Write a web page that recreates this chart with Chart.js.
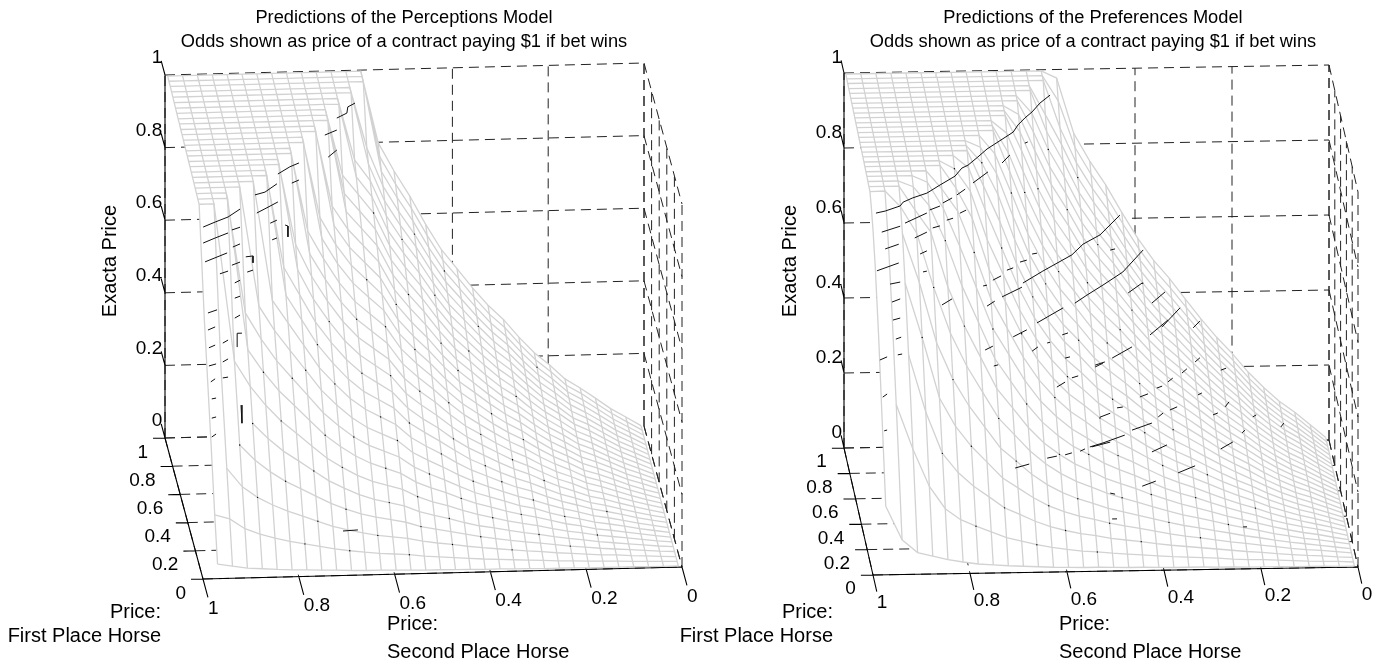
<!DOCTYPE html>
<html>
<head>
<meta charset="utf-8">
<script src="https://cdn.jsdelivr.net/npm/chart.js@4"></script>
<style>
body { margin: 0; background: #fff; }
canvas { position: absolute; top: 0; }
</style>
</head>
<body>
<canvas id="perceptionsChart" width="705" height="669" style="left:0"></canvas>
<canvas id="preferencesChart" width="714" height="669" style="left:670px"></canvas>
<script>
var priceTicks = [0, 0.2, 0.4, 0.6, 0.8, 1];
var exactaTicks = [0, 0.2, 0.4, 0.6, 0.8, 1];
var tickLabels = ['0', '0.2', '0.4', '0.6', '0.8', '1'];

// mesh columns and rows
var secondPrices = [.968,.937,.906,.875,.844,.813,.782,.751,.72,.689,.658,.627,.596,.565,.534,.503,.472,.441,.41,.379,.348,.317,.286,.255,.224,.193,.162,.131,.1,.069,.038,.007];
var firstPrices = [.008,.04,.074,.108,.142,.176,.21,.244,.278,.312,.346,.38,.414,.448,.482,.516,.55,.584,.618,.652,.686,.72,.754,.788,.822,.856,.89,.924,.958,.99];

// exacta price x 1000, one line per first place price
var perceptionsExacta = [
[37,30,24,21,18,16,15,13,12,10,9,9,8,7,6,6,5,5,4,4,3,3,2,2,2,1,1,1,1,0,0,0],
[160,148,120,104,92,82,74,66,58,52,47,43,40,37,32,29,26,23,20,18,16,14,12,10,9,7,6,5,3,2,1,0],
[340,274,222,192,170,152,137,122,107,96,87,79,74,69,60,54,49,43,38,34,30,26,23,19,16,13,10,9,6,4,2,0],
[497,400,324,281,248,221,200,178,157,140,126,116,108,100,87,79,71,63,55,49,43,38,33,28,23,19,15,12,9,6,3,1],
[653,525,426,369,327,291,263,234,206,185,166,152,142,132,115,104,94,82,72,65,57,50,44,37,31,26,20,16,12,8,4,1],
[963,963,528,458,405,361,326,290,255,229,206,188,176,164,143,128,116,102,90,80,70,62,55,46,38,32,25,20,15,10,5,1],
[964,964,964,546,483,431,389,347,305,273,246,225,210,195,170,153,139,122,107,96,84,74,65,55,45,38,29,24,18,12,6,1],
[966,966,966,634,561,500,451,403,354,317,285,261,244,227,198,178,161,142,124,111,98,85,76,63,52,44,34,28,21,13,7,1],
[968,968,968,968,639,570,514,459,403,361,325,297,278,259,225,203,183,161,142,126,111,97,86,72,60,50,39,32,24,15,8,1],
[969,969,969,969,969,640,577,515,452,406,365,334,312,290,253,228,206,181,159,142,125,109,97,81,67,56,44,36,27,17,9,2],
[971,971,971,971,971,971,640,571,502,450,405,370,346,322,280,253,228,201,176,157,138,121,107,90,74,62,48,40,29,19,10,2],
[972,972,972,972,972,972,703,627,551,494,445,407,380,353,308,277,251,220,194,173,152,133,118,99,82,68,53,44,32,21,11,2],
[974,974,974,974,974,974,974,683,600,538,484,443,414,385,335,302,273,240,211,188,166,145,128,108,89,75,58,48,35,23,12,2],
[975,975,975,975,975,975,975,739,650,582,524,479,448,417,363,327,296,260,228,204,179,157,139,116,96,81,63,52,38,25,13,2],
[977,977,977,977,977,977,977,977,699,627,564,516,482,448,390,352,318,280,246,219,193,169,149,125,104,87,67,55,41,27,14,2],
[978,978,978,978,978,978,978,978,748,671,604,552,516,480,418,377,341,299,263,235,206,181,160,134,111,93,72,59,44,28,15,3],
[980,980,980,980,980,980,980,980,980,715,644,589,550,512,446,402,363,319,280,250,220,193,171,143,118,99,77,63,47,30,17,3],
[981,981,981,981,981,981,981,981,981,759,683,625,584,543,473,426,385,339,297,266,234,205,181,152,126,105,82,67,50,32,18,3],
[983,983,983,983,983,983,983,983,983,983,723,661,618,575,501,451,408,358,315,281,247,216,192,161,133,111,87,71,53,34,19,3],
[984,984,984,984,984,984,984,984,984,984,763,698,652,606,528,476,430,378,332,297,261,228,202,170,140,117,91,75,55,36,20,3],
[986,986,986,986,986,986,986,986,986,986,986,734,686,638,556,501,453,398,349,312,274,240,213,178,148,123,96,79,58,38,21,3],
[987,987,987,987,987,987,987,987,987,987,987,770,720,670,583,526,475,418,367,328,288,252,223,187,155,129,101,83,61,40,22,4],
[989,989,989,989,989,989,989,989,989,989,989,807,754,701,611,550,498,437,384,343,302,264,234,196,162,136,106,87,64,41,23,4],
[990,990,990,990,990,990,990,990,990,990,990,990,788,733,638,575,520,457,401,359,315,276,244,205,169,142,110,91,67,43,24,4],
[992,992,992,992,992,992,992,992,992,992,992,992,822,764,666,600,543,477,418,374,329,288,255,214,177,148,115,95,70,45,25,4],
[994,994,994,994,994,994,994,994,994,994,994,994,994,796,693,625,565,496,436,389,342,300,265,223,184,154,120,98,73,47,26,4],
[995,995,995,995,995,995,995,995,995,995,995,995,995,828,721,650,587,516,453,405,356,312,276,231,191,160,125,102,76,49,27,4],
[997,997,997,997,997,997,997,997,997,997,997,997,997,997,748,675,610,536,470,420,370,324,286,240,199,166,129,106,79,51,28,5],
[998,998,998,998,998,998,998,998,998,998,998,998,998,998,776,699,632,556,487,436,383,335,297,249,206,172,134,110,81,53,29,5],
[1000,1000,1000,1000,1000,1000,1000,1000,1000,1000,1000,1000,1000,1000,802,723,653,574,503,450,396,347,307,257,213,178,139,113,84,54,30,5]
];

// exacta price x 1000, one line per second place price
var preferencesExactaByColumn = [
[180,620,800,880,930,962,964,966,968,969,971,972,974,975,977,978,980,981,983,984,986,987,989,990,992,994,995,997,998,1000],
[90,440,680,820,900,963,964,966,968,969,971,972,974,975,977,978,980,981,983,984,986,987,989,990,992,994,995,997,998,1000],
[55,320,560,740,860,920,964,966,968,969,971,972,974,975,977,978,980,981,983,984,986,987,989,990,992,994,995,997,998,1000],
[45,220,407,594,730,850,900,950,968,969,971,972,974,975,977,978,980,981,983,984,986,987,989,990,992,994,995,997,998,1000],
[35,160,296,432,568,704,840,900,950,969,971,972,974,975,977,978,980,981,983,984,986,987,989,990,992,994,995,997,998,1000],
[28,130,244,356,469,581,693,805,880,920,971,972,974,975,977,978,980,981,983,984,986,987,989,990,992,994,995,997,998,1000],
[22,112,207,302,398,493,588,683,778,860,910,950,974,975,977,978,980,981,983,984,986,987,989,990,992,994,995,997,998,1000],
[19,96,178,259,341,422,504,586,667,749,830,890,940,975,977,978,980,981,983,984,986,987,989,990,992,994,995,997,998,1000],
[16,80,148,216,284,352,420,488,556,624,692,760,828,880,930,960,980,981,983,984,986,987,989,990,992,994,995,997,998,1000],
[14,70,130,189,249,308,368,427,487,546,606,665,725,784,844,890,930,981,983,984,986,987,989,990,992,994,995,997,998,1000],
[12,60,111,162,213,264,315,366,417,468,519,570,621,672,723,774,825,870,910,950,986,987,989,990,992,994,995,997,998,1000],
[10,52,96,140,185,229,273,317,361,406,450,494,538,582,627,671,715,759,803,848,892,930,965,990,992,994,995,997,998,1000],
[9,46,85,124,163,202,242,281,320,359,398,436,476,515,554,593,633,672,711,750,789,828,867,906,945,994,995,997,998,1000],
[8,41,76,111,146,181,216,251,286,321,356,391,426,461,496,531,567,602,637,672,707,742,777,812,847,882,917,997,998,1000],
[8,38,70,102,133,165,197,229,261,293,325,357,389,421,453,485,517,549,581,613,645,677,709,741,773,805,837,869,930,980],
[7,34,62,91,119,148,176,205,234,262,291,319,348,376,405,433,462,491,519,548,576,605,633,662,690,719,748,776,805,832],
[6,31,57,83,109,135,161,187,213,239,265,291,317,343,369,395,421,447,473,499,525,551,577,603,629,655,681,707,733,757],
[6,28,52,76,99,123,147,171,195,218,242,266,290,314,337,361,385,409,433,456,480,504,528,552,575,599,623,647,671,693],
[5,25,46,68,89,110,131,153,174,195,216,238,259,280,301,323,344,365,386,408,429,450,471,493,514,535,556,578,599,619],
[4,22,41,60,79,98,117,135,154,173,192,211,230,249,268,286,305,324,343,362,381,400,418,437,456,475,494,513,532,549],
[4,20,37,53,70,87,104,121,138,154,171,188,205,222,239,255,272,289,306,323,340,356,373,390,407,424,441,457,474,490],
[4,18,33,48,63,78,93,109,124,139,154,169,184,199,214,230,245,260,275,290,305,320,336,351,366,381,396,411,426,441],
[3,16,29,42,55,69,82,95,108,122,135,148,161,175,188,201,215,228,241,254,268,281,294,307,321,334,347,360,374,386],
[3,13,25,36,48,59,70,82,93,105,116,127,139,150,161,173,184,196,207,218,230,241,253,264,275,287,298,310,321,332],
[2,11,21,31,40,50,60,70,79,89,99,108,118,128,137,147,157,166,176,186,196,205,215,225,234,244,254,263,273,282],
[2,10,18,26,34,42,50,59,67,75,83,91,99,108,116,124,132,140,148,156,165,173,181,189,197,205,214,222,230,238],
[2,8,14,21,27,33,40,46,53,59,66,72,79,85,92,98,105,111,117,124,130,137,143,150,156,163,169,176,182,188],
[1,6,11,16,21,26,31,36,41,46,51,56,61,66,71,76,81,86,91,96,101,106,111,116,121,126,131,136,141,146],
[1,4,8,12,16,19,23,27,31,34,38,42,46,49,53,57,61,64,68,72,75,79,83,87,90,94,98,102,105,109],
[1,3,6,9,11,14,17,20,22,25,28,30,33,36,39,41,44,47,49,52,55,58,60,63,66,68,71,74,77,79],
[0,2,3,5,6,8,9,11,13,14,16,17,19,20,22,23,25,26,28,29,31,32,34,35,37,39,40,42,43,45],
[0,0,1,1,1,2,2,2,3,3,3,4,4,4,5,5,6,6,6,7,7,7,8,8,8,9,9,9,10,10]
];

// first mesh column where each row shows grey (the rest of it is lost in the steep face)
var perceptionsRowStart = [0,0,1,2,3];
var preferencesRowStart = [0,1,2,2,2];

// black pieces of the under-mesh showing through: [second price, exacta] at first place price 0.5
var perceptionsTraces = [
[[.960,.774],[.935,.787],[.908,.800],[.883,.821]],
[[.960,.730],[.935,.743],[.908,.756]],[[.900,.764],[.883,.771]],
[[.956,.678],[.910,.701]],[[.925,.644],[.908,.651]],
[[.852,.859],[.831,.866],[.806,.888]],[[.804,.915],[.779,.934],[.760,.944]],
[[.848,.809],[.831,.820],[.804,.838]],[[.775,.889],[.760,.897]],
[[.706,1.019],[.681,1.032]],[[.681,1.065],[.660,1.078],[.658,1.095],[.643,1.105]],
[[.699,.958],[.681,.977]],[[.820,.780],[.806,.788]],[[.816,.734],[.806,.739]],
[[.898,.717],[.883,.725]],[[.900,.667],[.883,.675]],
[[.871,.689],[.856,.691],[.856,.672]],[[.789,.774],[.783,.771],[.783,.741]],
[[.868,.647],[.856,.652]],[[.894,.618],[.883,.625]],[[.894,.576],[.883,.581]],
[[.950,.537],[.931,.545]],[[.950,.490],[.935,.498]],[[.948,.441],[.935,.448]],
[[.919,.453],[.908,.461]],[[.948,.391],[.933,.396]],[[.919,.401],[.908,.409]],
[[.944,.347],[.935,.355]],[[.919,.357],[.908,.359]],[[.942,.300],[.933,.302]],
[[.942,.247],[.933,.250]],[[.942,.195],[.933,.203]],[[.668,-.073],[.637,-.071]],
[[.894,.521],[.883,.529]],[[.889,.441],[.889,.479],[.879,.479]],[[.881,.281],[.879,.231]]
];
var preferencesTraces = [
[[.964,.795],[.945,.800],[.914,.813],[.908,.823],[.888,.834],[.859,.846],[.832,.867],[.801,.890],[.787,.911],[.774,.919],[.754,.940],[.735,.961],[.719,.974],[.681,1.005],[.671,1.024],[.657,1.042],[.642,1.058],[.626,1.081],[.605,1.102]],
[[.952,.744],[.914,.759]],[[.904,.767],[.859,.793]],[[.853,.801],[.832,.811]],[[.826,.819],[.807,.832]],[[.797,.840],[.780,.855]],[[.764,.871],[.733,.900]],[[.704,.923],[.688,.944]],[[.657,.975],[.651,.978]],
[[.945,.699],[.917,.711]],[[.884,.727],[.859,.742]],[[.847,.753],[.832,.758]],[[.818,.773],[.805,.778]],[[.791,.791],[.778,.799]],
[[.962,.641],[.917,.661]],[[.873,.684],[.859,.692]],[[.867,.636],[.859,.638]],[[.935,.605],[.914,.610]],[[.931,.557],[.914,.565]],[[.929,.509],[.914,.514]],[[.828,.547],[.807,.563]],
[[.743,.596],[.735,.598]],[[.723,.611],[.706,.622]],[[.694,.637],[.681,.643]],[[.667,.658],[.653,.663]],[[.642,.679],[.632,.681]],
[[.735,.542],[.719,.555]],[[.704,.566],[.663,.591]],[[.661,.602],[.620,.633],[.560,.675],[.537,.703],[.502,.727],[.461,.779]],
[[.632,.495],[.578,.534]],[[.554,.546],[.529,.567],[.496,.593],[.455,.627],[.413,.685]],
[[.481,.686],[.471,.689]],[[.444,.571],[.415,.597]],[[.395,.543],[.368,.572]],[[.374,.479],[.337,.529]],[[.310,.475],[.296,.493]],[[.399,.458],[.362,.497]],
[[.512,.380],[.492,.388]],[[.477,.398],[.436,.427]],[[.420,.293],[.403,.301]],[[.385,.316],[.374,.321]],[[.362,.332],[.352,.342]],[[.333,.355],[.323,.366]],[[.306,.384],[.296,.395]],[[.253,.361],[.242,.366]],
[[.502,.241],[.481,.251]],[[.467,.265],[.455,.267]],[[.436,.205],[.395,.223]],[[.382,.239],[.372,.249]],[[.358,.257],[.343,.265]],[[.300,.296],[.292,.301]],[[.269,.242],[.259,.247]],[[.244,.263],[.236,.276]],[[.187,.235],[.180,.240]],
[[.523,.162],[.496,.172],[.451,.192]],[[.395,.146],[.364,.164]],[[.341,.089],[.306,.107]],[[.415,.055],[.387,.068]],[[.253,.151],[.228,.169]],[[.209,.193],[.203,.200]],[[.129,.207],[.123,.217]],
[[.481,.038],[.471,.035]],[[.477,-.031],[.467,-.031]],[[.207,-.058],[.199,-.058]],
[[.677,.109],[.648,.119]],[[.611,.134],[.591,.139]],[[.574,.142],[.560,.147]],[[.543,.151],[.533,.157]],[[.519,.162],[.481,.174]],
[[.739,.425],[.723,.435]],[[.681,.459],[.653,.477]],[[.642,.420],[.630,.431]],[[.591,.323],[.574,.336]],[[.560,.347],[.547,.352]],[[.512,.375],[.496,.385]],[[.574,.400],[.564,.403]],[[.611,.441],[.605,.443]],[[.580,.462],[.568,.467]],[[.721,.382],[.712,.385]],
[[.956,.403],[.941,.411]],[[.923,.458],[.912,.463]],[[.919,.416],[.910,.418]],[[.950,.304],[.941,.312]],[[.947,.214],[.941,.216]]
];

// black specks sitting on mesh nodes: [row, column]
var perceptionsSpecks = [[1,6],[1,9],[1,13],[2,3],[2,7],[2,11],[2,16],[2,20],[3,2],[3,5],[3,9],[3,14],[3,18],[3,24],[4,3],[4,7],[4,12],[4,16],[4,22],[5,5],[5,9],[5,14],[5,19],[5,26],[6,4],[6,8],[6,12],[6,17],[6,21],[7,6],[7,10],[7,15],[7,24],[8,7],[8,13],[8,18],[8,22],[9,9],[9,12],[9,16],[9,20],[9,27],[10,8],[10,14],[10,19],[11,11],[11,17],[11,23],[12,9],[12,13],[12,21],[13,15],[13,19],[14,11],[14,17],[15,13],[15,22],[16,15],[16,20],[17,12],[18,14],[18,18],[19,17],[20,15],[20,22],[21,19],[22,13],[23,17],[24,15],[25,20],[26,16],[27,18],[27,24]];
var preferencesSpecks = [[1,6],[1,10],[1,14],[2,4],[2,8],[2,12],[2,17],[3,3],[3,6],[3,11],[3,15],[3,21],[4,5],[4,9],[4,13],[4,19],[5,4],[5,8],[5,16],[5,23],[6,6],[6,12],[6,18],[7,5],[7,10],[7,14],[7,21],[8,8],[8,16],[8,25],[9,7],[9,12],[9,19],[10,10],[10,15],[10,22],[11,6],[11,13],[11,18],[12,9],[12,16],[13,11],[13,20],[14,8],[14,14],[15,12],[15,18],[16,10],[16,16],[17,13],[18,11],[18,17],[19,15],[20,12],[21,18],[22,14],[23,16],[24,13],[25,19],[26,15]];

// ---- viewing planes, one per panel
var perceptionsView = { x0: 682, xs: -479, xf: -38, y0: 567, ys: 12, yf: -141, yz: -363, lean: 13, min: 0, max: 705 };
var preferencesView = { x0: 1358, xs: -485, xf: -29, y0: 567, ys: 8, yf: -127, yz: -375, lean: 14, min: 670, max: 1384 };

function project(view, second, first, exacta, lean) {
    return {
        x: view.x0 + view.xs * second + view.xf * first - (lean || 0) * exacta,
        y: view.y0 + view.ys * second + view.yf * first + view.yz * exacta
    };
}

function withGaps(segments) {
    var out = [];
    segments.forEach(function (seg) {
        seg.forEach(function (p) { out.push(p); });
        out.push({ x: null, y: null });
    });
    return out;
}

function buildDatasets(view, table, rowStart, traces, specks) {
    function node(i, j) {
        return project(view, secondPrices[j], firstPrices[i], table[i][j] / 1000, view.lean);
    }
    var rows = [], cols = [], outline = [];
    firstPrices.forEach(function (f, i) {
        var seg = [];
        secondPrices.forEach(function (s, j) {
            if (j >= (rowStart[i] || 0)) seg.push(node(i, j));
        });
        rows.push(seg);
    });
    secondPrices.forEach(function (s, j) {
        cols.push(firstPrices.map(function (f, i) { return node(i, j); }));
    });

    var last = firstPrices.length - 1, lastCol = secondPrices.length - 1;
    secondPrices.forEach(function (s, j) { outline.push(node(0, j)); });
    firstPrices.forEach(function (f, i) { outline.push(node(i, lastCol)); });
    secondPrices.forEach(function (s, j) { outline.push(node(last, lastCol - j)); });
    firstPrices.forEach(function (f, i) { outline.push(node(last - i, 0)); });

    var grid = [], axes = [];
    function seg3(a, b) { return [project(view, a[0], a[1], a[2]), project(view, b[0], b[1], b[2])]; }
    exactaTicks.forEach(function (z) {
        grid.push(seg3([1, 1, z], [0, 1, z]));
        grid.push(seg3([0, 1, z], [0, 0, z]));
        axes.push(seg3([1, 1, z], [1, 1.1, z]));
    });
    priceTicks.forEach(function (p) {
        grid.push(seg3([p, 1, 0], [p, 1, 1]));
        grid.push(seg3([p, 1, 0], [p, 0, 0]));
        grid.push(seg3([0, p, 0], [0, p, 1]));
        grid.push(seg3([1, p, 0], [0, p, 0]));
        axes.push(seg3([p, 0, 0], [p, -0.13, 0]));
        axes.push(seg3([1, p, 0], [1.025, p, 0]));
    });
    axes.push(seg3([1, 1, 0], [1, 1, 1]));
    axes.push(seg3([1, 1, 0], [1, 0, 0]));
    axes.push(seg3([1, 0, 0], [0, 0, 0]));

    var traceSegs = traces.map(function (t) {
        return t.map(function (p) { return project(view, p[0], 0.5, p[1]); });
    });

    return [
        { label: 'specks', data: specks.map(function (n) { return node(n[0], n[1]); }), showLine: false, pointRadius: 0.7, pointBackgroundColor: '#000', pointBorderWidth: 0, order: 1 },
        { label: 'under mesh', data: withGaps(traceSegs), showLine: true, borderColor: '#111', borderWidth: 1, pointRadius: 0, order: 2 },
        { label: 'rows', data: withGaps(rows), showLine: true, borderColor: '#d2d2d2', borderWidth: 1.3, pointRadius: 0, order: 3 },
        { label: 'columns', data: withGaps(cols), showLine: true, borderColor: '#d2d2d2', borderWidth: 1.3, pointRadius: 0, order: 4 },
        { label: 'surface', data: outline, showLine: true, borderWidth: 0, borderColor: 'rgba(255,255,255,0)', backgroundColor: '#fff', fill: 'shape', pointRadius: 0, order: 5 },
        { label: 'axes', data: withGaps(axes), showLine: true, borderColor: '#000', borderWidth: 1.1, pointRadius: 0, order: 6 },
        { label: 'grid', data: withGaps(grid), showLine: true, borderColor: '#222', borderWidth: 1, borderDash: [10, 6], pointRadius: 0, order: 7 }
    ];
}

var labelPlugin = {
    id: 'panelText',
    afterDraw: function (chart, args, opts) {
        var ctx = chart.ctx, sx = chart.scales.x, sy = chart.scales.y, view = opts.view;
        function put(text, p, dx, dy, align) {
            ctx.textAlign = align;
            ctx.fillText(text, sx.getPixelForValue(p.x) + dx, sy.getPixelForValue(p.y) + dy);
        }
        ctx.save();
        ctx.fillStyle = '#000';
        ctx.textBaseline = 'middle';
        ctx.font = opts.tickFont;
        tickLabels.forEach(function (lab, k) {
            put(lab, project(view, 1, 1.1, exactaTicks[k]), 1, -3, 'right');
            put(lab, project(view, 1.025, priceTicks[k], 0), -5, 14, 'right');
            put(lab, project(view, priceTicks[k], -0.13, 0), 0, 11, 'left');
        });
        ctx.font = opts.titleFont;
        opts.title.forEach(function (line, k) {
            put(line, { x: opts.titleX, y: 18 + 24 * k }, 0, 0, 'center');
        });
        ctx.font = opts.axisFont;
        put('Price:', { x: opts.firstX, y: 612 }, 0, 0, 'right');
        put('First Place Horse', { x: opts.firstX, y: 636 }, 0, 0, 'right');
        put('Price:', { x: opts.secondX, y: 624 }, 0, 0, 'left');
        put('Second Place Horse', { x: opts.secondX, y: 652 }, 0, 0, 'left');
        ctx.translate(sx.getPixelForValue(opts.exactaX), sy.getPixelForValue(261));
        ctx.rotate(-Math.PI / 2);
        ctx.textAlign = 'center';
        ctx.fillText('Exacta Price', 0, 0);
        ctx.restore();
    }
};

function drawPanel(id, view, datasets, text) {
    text.view = view;
    text.tickFont = '19px "Liberation Sans"';
    text.titleFont = '18.25px "Liberation Sans"';
    text.axisFont = '20px "Liberation Sans"';
    new Chart(document.getElementById(id).getContext('2d'), {
        type: 'scatter',
        data: { datasets: datasets },
        options: {
            responsive: false,
            animation: false,
            events: [],
            layout: { padding: 0, autoPadding: false },
            scales: {
                x: { type: 'linear', display: false, min: view.min, max: view.max },
                y: { type: 'linear', display: false, min: 0, max: 669, reverse: true }
            },
            plugins: { legend: { display: false }, tooltip: { enabled: false }, panelText: text }
        },
        plugins: [labelPlugin]
    });
}

var preferencesExacta = firstPrices.map(function (f, i) {
    return preferencesExactaByColumn.map(function (col) { return col[i]; });
});

drawPanel('perceptionsChart', perceptionsView,
    buildDatasets(perceptionsView, perceptionsExacta, perceptionsRowStart, perceptionsTraces, perceptionsSpecks),
    { title: ['Predictions of the Perceptions Model', 'Odds shown as price of a contract paying $1 if bet wins'], titleX: 404, firstX: 161, secondX: 387, exactaX: 110 });

drawPanel('preferencesChart', preferencesView,
    buildDatasets(preferencesView, preferencesExacta, preferencesRowStart, preferencesTraces, preferencesSpecks),
    { title: ['Predictions of the Preferences Model', 'Odds shown as price of a contract paying $1 if bet wins'], titleX: 1093, firstX: 833, secondX: 1059, exactaX: 790 });
</script>
</body>
</html>
